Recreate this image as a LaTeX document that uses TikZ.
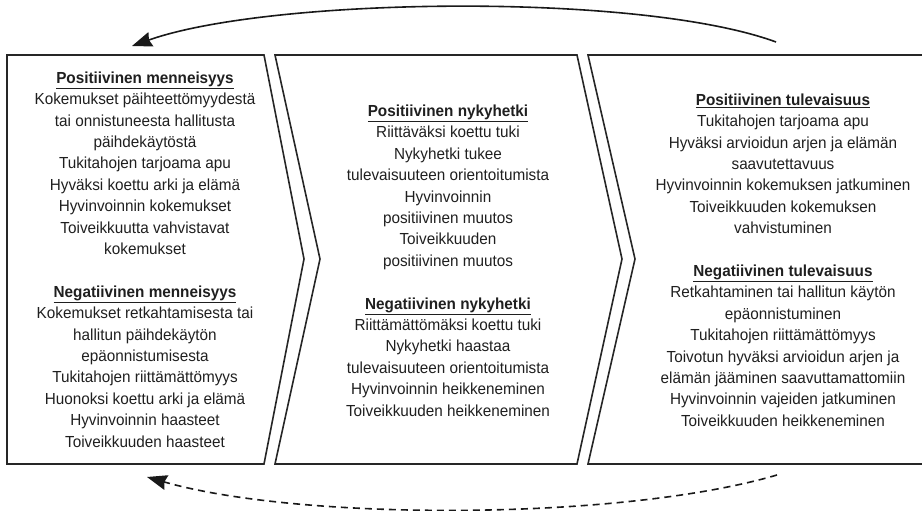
\documentclass[tikz,border=0pt]{standalone}
\usepackage{fontspec}
\setmainfont{Liberation Sans}[FakeStretch=0.955]
\usetikzlibrary{arrows.meta}
\begin{document}
\begin{tikzpicture}[x=1pt,y=-1pt,
  panel/.style={draw=black!85,line width=1.6pt,line join=miter},
  txt/.style={align=center,font=\fontsize{16}{21.4}\selectfont,text=black!88,inner sep=0pt},
  loop/.style={draw=black!90,line width=1.6pt,-{Stealth[length=20pt,width=15pt,inset=2pt]}}]
\useasboundingbox (0,0) rectangle (922,511);
% panels
\draw[panel] (7,55) -- (264,55) -- (304,259) -- (264,464) -- (7,464) -- cycle;
\draw[panel] (275,55) -- (577,55) -- (622,259) -- (577,464) -- (275,464) -- (320,259) -- cycle;
\draw[panel] (930,55) -- (588,55) -- (635,259) -- (588,464) -- (930,464);
% texts
\node[txt] (past) at (145,259.5) {\underline{\textbf{Positiivinen menneisyys}}\\
Kokemukset päihteettömyydestä\\ tai onnistuneesta hallitusta\\ päihdekäytöstä\\
Tukitahojen tarjoama apu\\ Hyväksi koettu arki ja elämä\\ Hyvinvoinnin kokemukset\\
Toiveikkuutta vahvistavat\\ kokemukset\\[21.4pt]
\underline{\textbf{Negatiivinen menneisyys}}\\
Kokemukset retkahtamisesta tai\\ hallitun päihdekäytön\\ epäonnistumisesta\\
Tukitahojen riittämättömyys\\ Huonoksi koettu arki ja elämä\\ Hyvinvoinnin haasteet\\
Toiveikkuuden haasteet};
\node[txt] (present) at (448,260.5) {\underline{\textbf{Positiivinen nykyhetki}}\\
Riittäväksi koettu tuki\\ Nykyhetki tukee\\ tulevaisuuteen orientoitumista\\
Hyvinvoinnin\\ positiivinen muutos\\ Toiveikkuuden\\ positiivinen muutos\\[21.4pt]
\underline{\textbf{Negatiivinen nykyhetki}}\\
Riittämättömäksi koettu tuki\\ Nykyhetki haastaa\\ tulevaisuuteen orientoitumista\\
Hyvinvoinnin heikkeneminen\\ Toiveikkuuden heikkeneminen};
\node[txt] (future) at (783,260) {\underline{\textbf{Positiivinen tulevaisuus}}\\
Tukitahojen tarjoama apu\\ Hyväksi arvioidun arjen ja elämän\\ saavutettavuus\\
Hyvinvoinnin kokemuksen jatkuminen\\ Toiveikkuuden kokemuksen\\ vahvistuminen\\[21.4pt]
\underline{\textbf{Negatiivinen tulevaisuus}}\\
Retkahtaminen tai hallitun käytön\\ epäonnistuminen\\ Tukitahojen riittämättömyys\\
Toivotun hyväksi arvioidun arjen ja\\ elämän jääminen saavuttamattomiin\\
Hyvinvoinnin vajeiden jatkuminen\\ Toiveikkuuden heikkeneminen};
% loops
\coordinate (s1) at (776,42);
\coordinate (e1) at (132,46);
\coordinate (s2) at (777,475);
\coordinate (e2) at (147,477);
\draw[loop] (s1) .. controls (640,-8) and (270,-3) .. (e1);
\draw[loop,dash pattern=on 7pt off 5pt] (s2) .. controls (620,521) and (300,521) .. (e2);
\end{tikzpicture}
\end{document}
